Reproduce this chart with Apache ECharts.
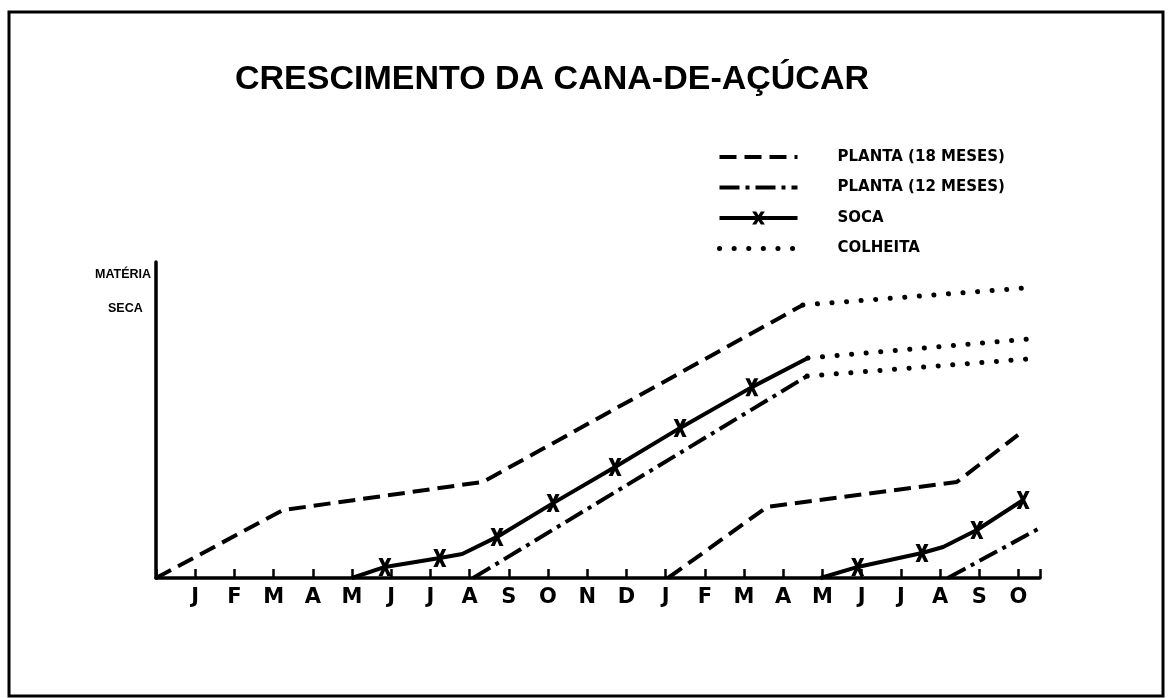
<!DOCTYPE html>
<html>
<head>
<meta charset="utf-8">
<script src="https://cdn.jsdelivr.net/npm/echarts@6/dist/echarts.min.js"></script>
<style>
  html, body { margin: 0; padding: 0; background: #fff; }
  #chart { width: 1170px; height: 698px; }
</style>
</head>
<body>
<div id="chart"></div>
<script>
// month letters under the ticks (two seasons, Jan -> Oct of the following year)
const months = ['J','F','M','A','M','J','J','A','S','O','N','D','J','F','M','A','M','J','J','A','S','O'];

// [month position, relative dry matter]
const planta18a = [[0, 0], [3.24, 21.5], [8.34, 30.4], [16.5, 86.4]];
const planta18b = [[13.06, 0], [15.59, 22.5], [20.43, 30.4], [21.99, 45.3]];
const planta12a = [[8.09, 0], [16.61, 63.9]];
const planta12b = [[20.2, 0], [22.5, 15.5]];
const socaA = [[5.0, 0], [5.84, 3.5], [7.24, 6.3], [7.81, 7.6], [8.7, 13.0], [10.13, 23.7], [11.71, 35.1], [13.37, 47.5], [15.2, 60.4], [16.63, 69.6]];
const socaAMarks = [0, 1, 1, 0, 1, 1, 1, 1, 1, 0];
const socaB = [[16.95, 0], [17.9, 3.5], [19.54, 7.9], [20.08, 9.8], [20.94, 15.2], [22.12, 24.7]];
const socaBMarks = [0, 1, 1, 0, 1, 1];
const colheita18 = [[16.5, 86.4], [22.2, 91.8]];
const colheitaSoca = [[16.63, 69.6], [22.22, 75.6]];
const colheita12 = [[16.61, 63.9], [22.22, 69.3]];

const N18 = 'PLANTA (18 MESES)';
const N12 = 'PLANTA (12 MESES)';
const NSOCA = 'SOCA';
const NCOL = 'COLHEITA';

// thick hand-lettered "x" marker
const xMark = 'path://M0,0 L3.2,0 L5,4 L6.8,0 L10,0 L6.6,7 L10,14 L6.8,14 L5,10 L3.2,14 L0,14 L3.4,7 Z';

const chart = echarts.init(document.getElementById('chart'));

const dashStyle = { color: '#000', width: 4, type: [17, 8] };
const dashDotStyle = { color: '#000', width: 4, type: [20, 6, 4, 6] };
const socaStyle = { color: '#000', width: 4 };
const dotStyle = { color: '#000', width: 5, type: [0.1, 14.5], cap: 'round' };

const withMarks = (pts, marks) => pts.map((p, i) => marks[i] ? { value: p } : { value: p, symbol: 'none' });

const lineSeries = (name, data, lineStyle, extra) => Object.assign({
    name: name,
    type: 'line',
    data: data,
    symbol: 'none',
    lineStyle: lineStyle,
    itemStyle: { color: '#000' },
    z: 3
}, extra || {});

// legend entries: hide the default circle for the plain line series
const noDot = { color: 'rgba(0,0,0,0)', borderWidth: 0 };

const option = {
    animation: false,
    backgroundColor: '#fff',
    title: {
        text: 'CRESCIMENTO DA CANA-DE-AÇÚCAR',
        left: 230,
        top: 56,
        textStyle: {
            fontFamily: 'Liberation Sans',
            fontWeight: 'bold',
            fontSize: 34,
            lineHeight: 38,
            color: '#000'
        }
    },
    legend: {
        orient: 'vertical',
        left: 712,
        top: 144,
        itemWidth: 78,
        itemHeight: 16,
        itemGap: 14.5,
        data: [
            { name: N18, itemStyle: noDot, lineStyle: { width: 4 } },
            { name: N12, itemStyle: noDot, lineStyle: { width: 4 } },
            { name: NSOCA, lineStyle: { width: 4 } },
            { name: NCOL, itemStyle: noDot, lineStyle: { width: 5 } }
        ],
        textStyle: {
            fontFamily: 'DejaVu Sans',
            fontWeight: 'bold',
            fontSize: 15,
            lineHeight: 16,
            color: '#000',
            padding: [0, 0, 0, 35]
        }
    },
    grid: {
        left: 156,
        top: 262,
        width: 884,
        height: 316
    },
    xAxis: {
        type: 'value',
        min: 0,
        max: 22.55,
        interval: 1,
        splitLine: { show: false },
        axisLine: { lineStyle: { color: '#000', width: 3.5 } },
        axisTick: { inside: true, length: 9, lineStyle: { color: '#000', width: 2.5 } },
        axisLabel: {
            margin: 9,
            fontFamily: 'DejaVu Sans',
            fontWeight: 'bold',
            fontSize: 21,
            color: '#000',
            formatter: v => (Number.isInteger(v) && v >= 1 && v <= months.length) ? months[v - 1] : ''
        }
    },
    yAxis: {
        type: 'value',
        min: 0,
        max: 100,
        splitLine: { show: false },
        axisLine: { show: true, lineStyle: { color: '#000', width: 3.5 } },
        axisTick: { show: false },
        axisLabel: { show: false }
    },
    graphic: [
        {
            type: 'rect',
            shape: { x: 9, y: 12, width: 1154, height: 684 },
            style: { fill: 'none', stroke: '#000', lineWidth: 3 },
            silent: true
        },
        {
            type: 'text',
            left: 95,
            top: 268,
            style: { text: 'MATÉRIA', fill: '#000', font: 'bold 12.5px "Liberation Sans"' }
        },
        {
            type: 'text',
            left: 108,
            top: 302,
            style: { text: 'SECA', fill: '#000', font: 'bold 12.5px "Liberation Sans"' }
        }
    ],
    series: [
        lineSeries(N18, planta18a, dashStyle),
        lineSeries(N18, planta18b, dashStyle),
        lineSeries(N12, planta12a, dashDotStyle),
        lineSeries(N12, planta12b, dashDotStyle),
        lineSeries(NSOCA, withMarks(socaA, socaAMarks), socaStyle, { symbol: xMark, symbolSize: [13, 18] }),
        lineSeries(NSOCA, withMarks(socaB, socaBMarks), socaStyle, { symbol: xMark, symbolSize: [13, 18] }),
        lineSeries(NCOL, colheita18, dotStyle),
        lineSeries(NCOL, colheitaSoca, dotStyle),
        lineSeries(NCOL, colheita12, dotStyle)
    ]
};

chart.setOption(option);
</script>
</body>
</html>
